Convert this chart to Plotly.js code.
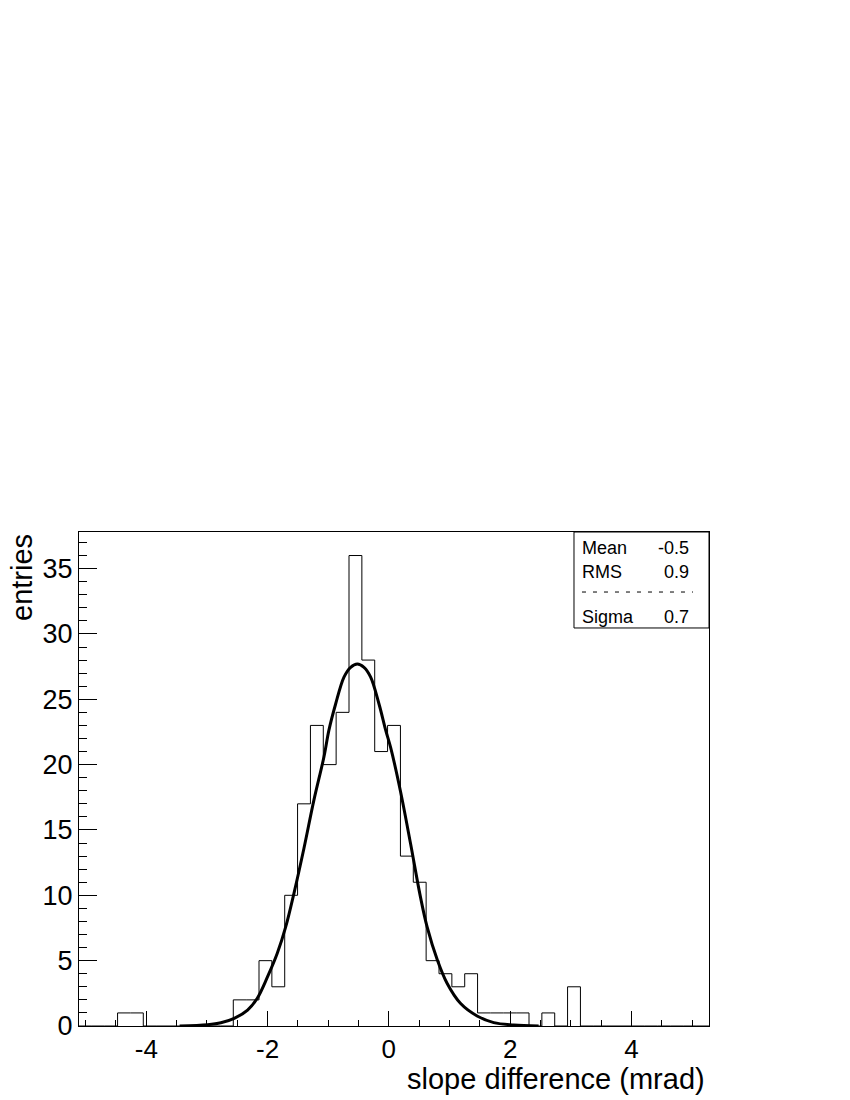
<!DOCTYPE html>
<html>
<head>
<meta charset="utf-8">
<script src="https://cdn.plot.ly/plotly-3.0.1.min.js"></script>
<style>
    body { margin: 0; background: #fff; }
    #slopeChart { width: 850px; height: 1100px; }
</style>
</head>
<body>
<div id="slopeChart"></div>
<script>
// histogram binning (49 bins)
const histMin = -5.11;
const histMax = 5.28;
const binCounts = [0, 0, 0, 1, 1, 0, 0, 0, 0, 0,
                   0, 0, 2, 2, 5, 3, 10, 17, 23, 20,
                   24, 36, 28, 21, 23, 13, 11, 5, 4, 3,
                   4, 1, 1, 1, 1, 0, 1, 0, 3, 0,
                   0, 0, 0, 0, 0, 0, 0, 0, 0];

// gaussian fit curve
const fitX = [-3.45, -2.99, -2.77, -2.55, -2.33, -2.17, -2.00, -1.84, -1.70, -1.565,
              -1.40, -1.235, -1.07, -0.99, -0.88, -0.74, -0.63, -0.52, -0.41, -0.30,
              -0.16, -0.05, 0.03, 0.19, 0.357, 0.52, 0.63, 0.80, 0.96, 1.18,
              1.456, 1.73, 2.06, 2.47];
const fitY = [0, 0.1, 0.25, 0.59, 1.22, 2.12, 3.77, 5.56, 7.6, 10.15,
              13.6, 17.3, 20.6, 22.6, 24.6, 26.7, 27.45, 27.7, 27.45, 26.7,
              24.6, 22.6, 21.3, 18.0, 13.98, 9.9, 7.6, 5.05, 3.27, 1.74,
              0.77, 0.26, 0.08, 0];

const yTickVals = [0, 5, 10, 15, 20, 25, 30, 35];
const xTickVals = [-4, -2, 0, 2, 4];
const xTickText = ['-4', '-2', '0', '2', '4'];

const statNames = ['Mean', 'RMS', 'Sigma'];
const statValues = ['-0.5', '0.9', '0.7'];

var CHART = document.getElementById('slopeChart');

// step outline, edges from the binning
var binWidth = (histMax - histMin) / binCounts.length;
var stepX = [histMin];
var stepY = [0];
binCounts.forEach(function(c, i){
    stepX.push(histMin + i * binWidth);
    stepY.push(c);
});
stepX.push(histMax);
stepY.push(binCounts[binCounts.length - 1]);

var histTrace = {
    x: stepX,
    y: stepY,
    mode: 'lines',
    line: {color: '#000', width: 1, shape: 'hv'},
    hoverinfo: 'skip',
    showlegend: false,
};

var fitTrace = {
    x: fitX,
    y: fitY,
    mode: 'lines',
    line: {color: '#000', width: 3, shape: 'spline', smoothing: 1},
    showlegend: false,
};

var LF = 'Liberation Sans, Arial, Helvetica, sans-serif';

var annots = [
    {
        text: 'slope difference (mrad)',
        xref: 'paper', yref: 'paper',
        x: 0.997, y: -0.108,
        xanchor: 'right', yanchor: 'middle',
        showarrow: false,
        font: {family: LF, size: 29, color: '#000'},
    },
    {
        text: 'entries',
        xref: 'paper', yref: 'paper',
        x: -0.0913, y: 1.0,
        xanchor: 'center', yanchor: 'top',
        textangle: -90,
        showarrow: false,
        font: {family: LF, size: 29, color: '#000'},
    },
];

// stats box rows
var rowY = [0.9676, 0.919, 0.828];
statNames.forEach(function(n, i){
    annots.push({
        text: n, xref: 'paper', yref: 'paper',
        x: 0.7952, y: rowY[i], xanchor: 'left', yanchor: 'middle',
        showarrow: false, font: {family: LF, size: 18, color: '#000'},
    });
    annots.push({
        text: statValues[i], xref: 'paper', yref: 'paper',
        x: 0.9714, y: rowY[i], xanchor: 'right', yanchor: 'middle',
        showarrow: false, font: {family: LF, size: 18, color: '#000'},
    });
});

var layout = {
    width: 850,
    height: 1100,
    margin: {l: 79, r: 141, t: 532, b: 74},
    paper_bgcolor: '#fff',
    plot_bgcolor: '#fff',
    font: {family: LF, color: '#000'},
    showlegend: false,
    xaxis: {
        range: [histMin, histMax],
        tickvals: xTickVals,
        ticktext: xTickText,
        ticks: 'inside',
        ticklen: 15,
        tickcolor: '#000',
        tickfont: {size: 26, family: LF, color: '#000'},
        minor: {dtick: 0.5, tick0: 0, ticks: 'inside', ticklen: 6, tickcolor: '#000'},
        showline: true,
        linecolor: '#000',
        linewidth: 1,
        mirror: true,
        showgrid: false,
        zeroline: false,
    },
    yaxis: {
        range: [0, 37.8],
        tickvals: yTickVals,
        ticks: 'inside',
        ticklen: 18,
        tickcolor: '#000',
        tickfont: {size: 27, family: LF, color: '#000'},
        minor: {dtick: 1, tick0: 0, ticks: 'inside', ticklen: 8, tickcolor: '#000'},
        showline: true,
        linecolor: '#000',
        linewidth: 1,
        mirror: true,
        showgrid: false,
        zeroline: false,
    },
    shapes: [
        {
            type: 'rect', xref: 'paper', yref: 'paper',
            x0: 0.7857, x1: 1, y0: 0.8057, y1: 1,
            fillcolor: '#fff',
            line: {color: '#000', width: 1},
        },
        {
            type: 'line', xref: 'paper', yref: 'paper',
            x0: 0.7984, x1: 0.9746, y0: 0.8785, y1: 0.8785,
            line: {color: '#000', width: 1, dash: '4px,7px'},
        },
    ],
    annotations: annots,
};

var config = {
    displayModeBar: false,
    staticPlot: true,
};

Plotly.newPlot(CHART, [histTrace, fitTrace], layout, config);
</script>
</body>
</html>
